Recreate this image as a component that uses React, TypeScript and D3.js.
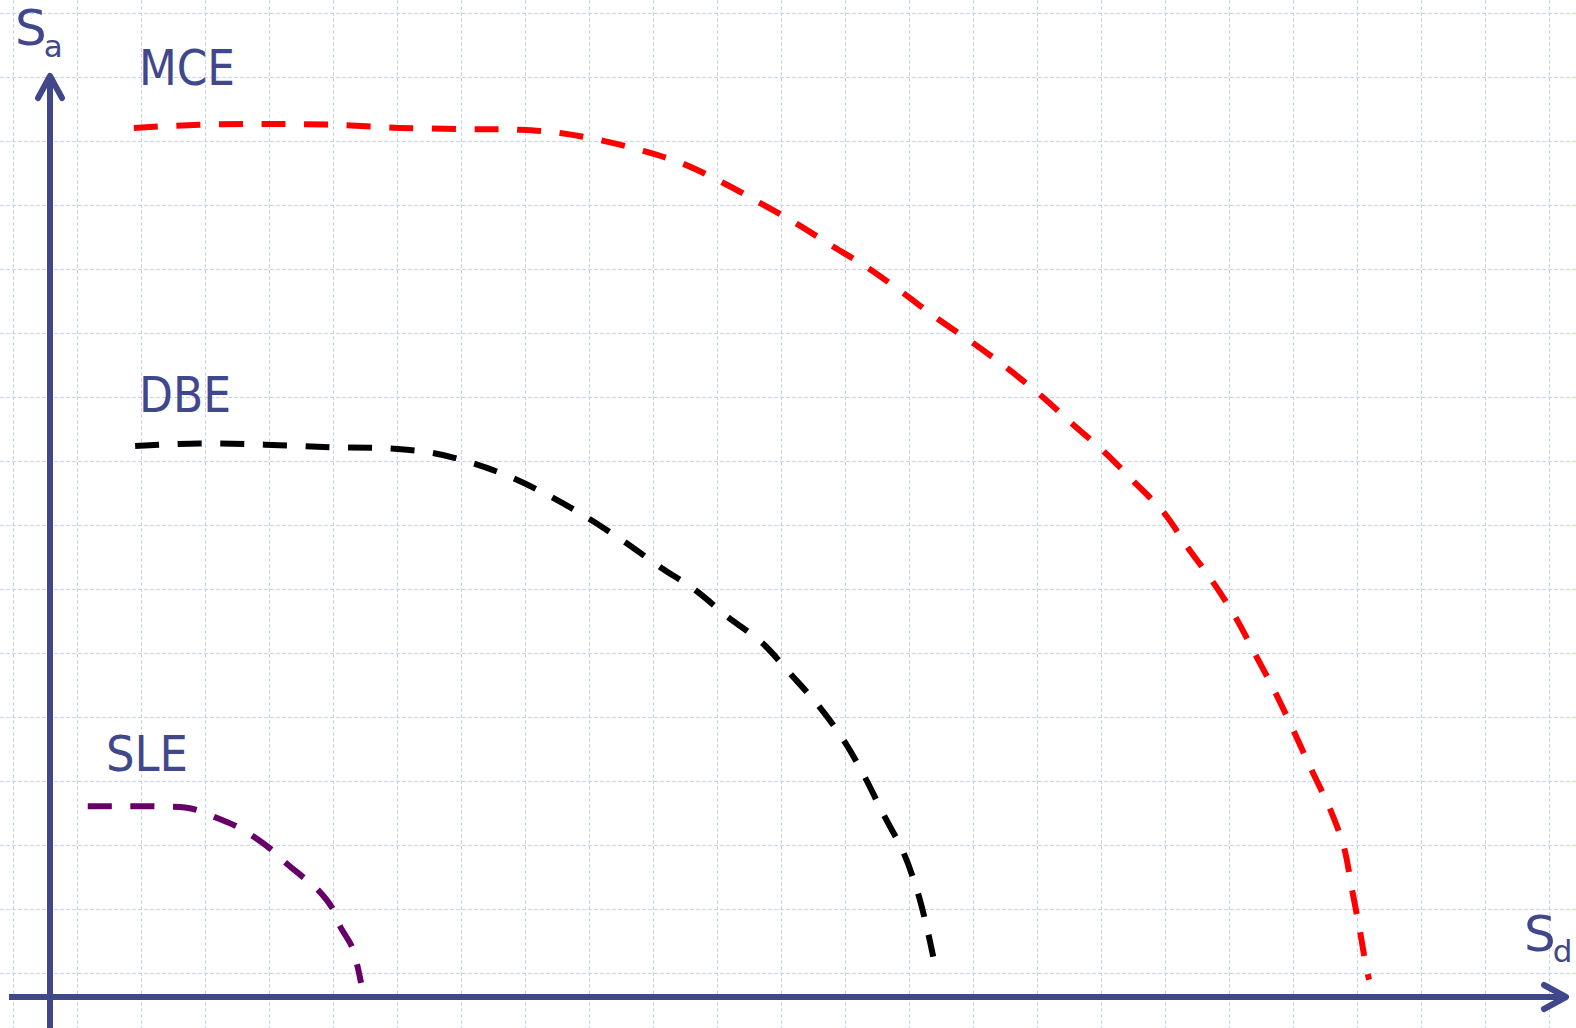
import React from "react";
import * as d3 from "d3";

// Data in grid-cell units (Sd, Sa), origin at the axes crossing
const mceSd = [1.31, 2.34, 3.36, 4.38, 5.47, 6.56, 7.34, 7.97, 8.63, 9.27, 9.89, 10.5, 11.09, 11.67, 12.23, 12.8, 13.33, 13.88, 14.42, 14.95, 15.47, 15.98, 16.47, 16.94, 17.41, 17.78, 18.16, 18.52, 18.84, 19.14, 19.44, 19.72, 20.0, 20.22, 20.34, 20.47, 20.56, 20.61];
const mceSa = [13.58, 13.63, 13.64, 13.63, 13.58, 13.56, 13.55, 13.5, 13.38, 13.22, 13.02, 12.73, 12.41, 12.08, 11.73, 11.38, 11.0, 10.59, 10.22, 9.83, 9.41, 8.95, 8.52, 8.05, 7.56, 7.02, 6.5, 5.94, 5.34, 4.77, 4.14, 3.53, 2.94, 2.33, 1.7, 1.02, 0.5, 0.27];

const dbeSd = [1.33, 2.34, 3.36, 4.38, 5.31, 5.98, 6.61, 7.23, 7.84, 8.41, 8.98, 9.53, 10.08, 10.59, 11.13, 11.56, 12.0, 12.39, 12.73, 13.03, 13.33, 13.56, 13.72, 13.8];
const dbeSa = [8.61, 8.65, 8.63, 8.59, 8.57, 8.5, 8.34, 8.11, 7.81, 7.48, 7.11, 6.72, 6.36, 5.94, 5.53, 5.06, 4.56, 4.03, 3.44, 2.84, 2.27, 1.63, 1.0, 0.63];

const sleSd = [0.59, 0.98, 1.64, 2.11, 2.34, 2.58, 2.91, 3.16, 3.45, 3.69, 3.97, 4.19, 4.41, 4.53, 4.72, 4.8, 4.86];
const sleSa = [2.98, 2.98, 2.98, 2.96, 2.91, 2.81, 2.67, 2.52, 2.31, 2.09, 1.86, 1.67, 1.39, 1.11, 0.78, 0.5, 0.22];

const seriesNames = ["MCE", "DBE", "SLE"];
const seriesColors = ["#ff0000", "#000000", "#660066"];

const W = 1576;
const H = 1028;
const AXIS = "#41478b";
const GRID = "#c6d3f6";
const FONT = "'DejaVu Sans', Verdana, sans-serif";

const x = d3.scaleLinear().domain([0, 24]).range([50, 50 + 24 * 64]);
const y = d3.scaleLinear().domain([0, 15]).range([997, 997 - 15 * 64]);

function toPts(xs: number[], ys: number[]): [number, number][] {
  return xs.map((v, i) => [v, ys[i]]);
}

export default function App() {
  const line = d3
    .line<[number, number]>()
    .x((d) => x(d[0]))
    .y((d) => y(d[1]))
    .curve(d3.curveCatmullRom.alpha(0.5));

  const series = [toPts(mceSd, mceSa), toPts(dbeSd, dbeSa), toPts(sleSd, sleSa)];

  const gridX = d3.range(0, 25).map((k) => 13 + 64 * k);
  const gridY = d3.range(0, 17).map((k) => 13 + 64 * k);

  const ox = x(0);
  const oy = y(0);

  return (
    <svg
      width={W}
      height={H}
      style={{ position: "absolute", left: 0, top: 0, display: "block", background: "#fff" }}
    >
      <rect x={0} y={0} width={W} height={H} fill="#fff" />
      <g stroke={GRID} strokeWidth={1} strokeDasharray="4 2">
        {gridX.map((gx) => (
          <line key={"gx" + gx} x1={gx + 0.5} x2={gx + 0.5} y1={0} y2={H} />
        ))}
        {gridY.map((gy) => (
          <line key={"gy" + gy} x1={0} x2={W} y1={gy + 0.5} y2={gy + 0.5} />
        ))}
      </g>

      {/* axes */}
      <g stroke={AXIS} strokeWidth={6} fill="none">
        <line x1={ox} x2={ox} y1={H} y2={77} />
        <line x1={9} x2={1565} y1={oy} y2={oy} />
        <polyline points={`${ox - 12},98 ${ox},76 ${ox + 12},98`} strokeLinecap="round" strokeLinejoin="round" />
        <polyline points={`1544,${oy - 12} 1566,${oy} 1544,${oy + 12}`} strokeLinecap="round" strokeLinejoin="round" />
      </g>

      {/* curves */}
      {series.map((pts, i) => (
        <path
          key={seriesNames[i]}
          d={line(pts) || ""}
          fill="none"
          stroke={seriesColors[i]}
          strokeWidth={6}
          strokeDasharray="24 18.6"
          strokeLinecap="butt"
        />
      ))}

      {/* labels */}
      <g fill={AXIS} fontFamily={FONT}>
        <text x={139} y={85} fontSize={49} textLength={96} lengthAdjust="spacingAndGlyphs">MCE</text>
        <text x={139} y={412} fontSize={49} textLength={92} lengthAdjust="spacingAndGlyphs">DBE</text>
        <text x={106} y={771} fontSize={49} textLength={82} lengthAdjust="spacingAndGlyphs">SLE</text>
        <text x={15} y={45} fontSize={50}>
          S<tspan dx={-3} dy={12} fontSize={31}>a</tspan>
        </text>
        <text x={1524} y={951} fontSize={50}>
          S<tspan dx={-3} dy={11} fontSize={31}>d</tspan>
        </text>
      </g>
    </svg>
  );
}
